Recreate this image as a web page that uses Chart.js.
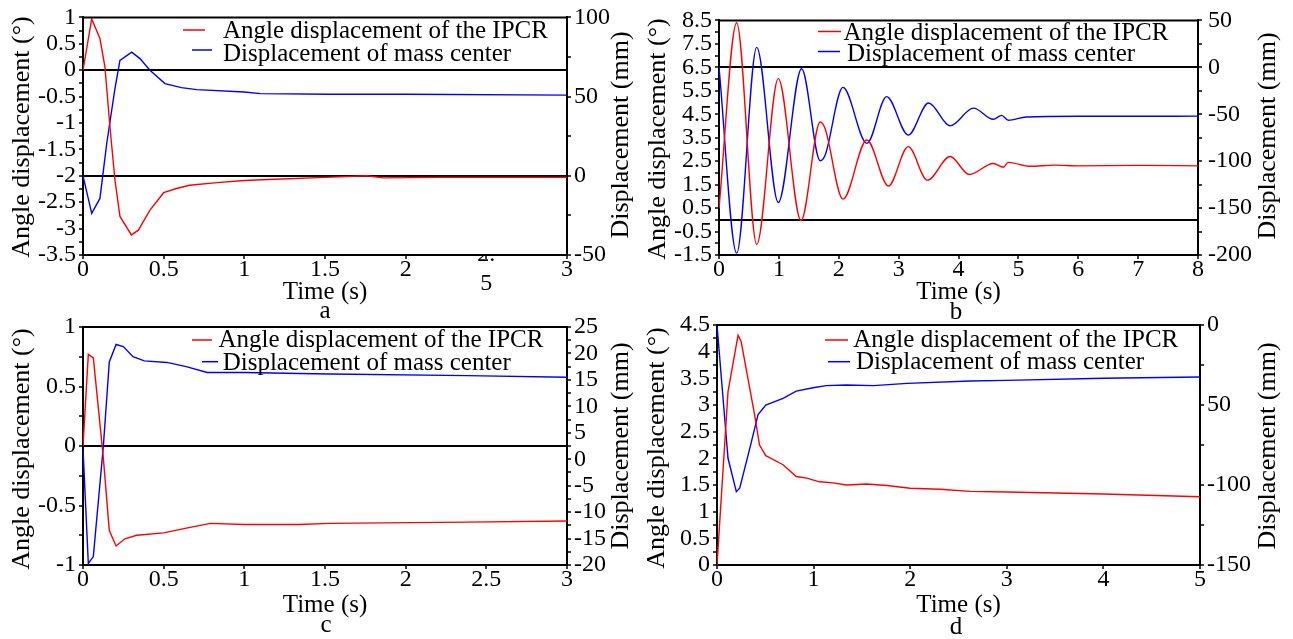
<!DOCTYPE html>
<html><head><meta charset="utf-8">
<script src="https://cdn.jsdelivr.net/npm/chart.js@4.4.0/dist/chart.umd.min.js"></script>
<style>
html,body{margin:0;padding:0;background:#fff;}
#wrap{position:relative;width:1293px;height:639px;overflow:hidden;background:#fff;}
canvas{position:absolute;}
</style></head><body>
<div id="wrap">
<canvas id="cA" width="646" height="320" style="left:0;top:0"></canvas>
<canvas id="cB" width="647" height="320" style="left:646px;top:0"></canvas>
<canvas id="cC" width="646" height="349" style="left:0;top:290px"></canvas>
<canvas id="cD" width="647" height="349" style="left:646px;top:290px"></canvas>
</div>
<script>
// ---------- Series labels ----------
const seriesAngle = 'Angle displacement of the IPCR';
const seriesMass = 'Displacement of mass center';
const xTitle = 'Time (s)';
const leftTitle = 'Angle displacement (°)';
const rightTitle = 'Displacement (mm)';

// ---------- Panel a ----------
const aAngleTime = [0, 0.054, 0.105, 0.136, 0.167, 0.198, 0.229, 0.30, 0.343, 0.415, 0.50, 0.58, 0.66, 0.83, 1.0, 1.15, 1.5, 1.76, 1.86, 2.2, 3.0];
const aAngle     = [0, 0.97, 0.6, 0.06, -1.07, -2.08, -2.77, -3.12, -3.03, -2.65, -2.32, -2.24, -2.18, -2.13, -2.09, -2.07, -2.03, -2.0, -2.04, -2.03, -2.03];
const aMassTime  = [0, 0.054, 0.105, 0.147, 0.198, 0.229, 0.302, 0.353, 0.415, 0.508, 0.61, 0.705, 1.0, 1.1, 1.53, 2.0, 3.0];
const aMass      = [0, -23.7, -14.3, 20.4, 55.1, 72.9, 78.1, 74, 66.6, 58.2, 55.7, 54.4, 52.9, 51.9, 51.5, 51.5, 50.9];
const aXTickValues = [0, 0.5, 1, 1.5, 2, 2.5, 3];
const aXTickLabels = ['0', '0.5', '1', '1.5', '2', ['2.', '5'], '3'];
const aLeftTickValues = [1, 0.5, 0, -0.5, -1, -1.5, -2, -2.5, -3, -3.5];
const aLeftTickLabels = ['1', '0.5', '0', '-0.5', '-1', '-1.5', '-2', '-2.5', '-3', '-3.5'];
const aRightTickValues = [100, 50, 0, -50];
const aRightTickLabels = ['100', '50', '0', '-50'];

// ---------- Panel b ----------
const bAngleTime = [0, 0.295, 0.63, 0.99, 1.37, 1.69, 1.77, 2.07, 2.47, 2.83, 3.16, 3.48, 3.86, 4.18, 4.58, 4.75, 4.83, 5.2, 5.6, 6, 7, 8];
const bAngle     = [0.5, 8.4, -1.05, 6.02, -0.03, 4.17, 3.9, 0.88, 3.4, 1.44, 3.12, 1.69, 2.7, 1.93, 2.4, 2.24, 2.45, 2.28, 2.33, 2.3, 2.32, 2.3];
const bMassTime  = [0, 0.295, 0.63, 0.99, 1.38, 1.69, 1.77, 2.07, 2.47, 2.8, 3.16, 3.5, 3.86, 4.25, 4.58, 4.72, 4.83, 5.13, 6, 7, 8];
const bMass      = [0, -198, 21.3, -144, -1.5, -99.5, -94, -21.4, -81, -31.2, -72.2, -38, -62.4, -43.5, -55.4, -51.2, -56.4, -53, -52.2, -52.2, -52];
const bXTickValues = [0, 1, 2, 3, 4, 5, 6, 7, 8];
const bXTickLabels = ['0', '1', '2', '3', '4', '5', '6', '7', '8'];
const bLeftTickValues = [8.5, 7.5, 6.5, 5.5, 4.5, 3.5, 2.5, 1.5, 0.5, -0.5, -1.5];
const bLeftTickLabels = ['8.5', '7.5', '6.5', '5.5', '4.5', '3.5', '2.5', '1.5', '0.5', '-0.5', '-1.5'];
const bRightTickValues = [50, 0, -50, -100, -150, -200];
const bRightTickLabels = ['50', '0', '-50', '-100', '-150', '-200'];

// ---------- Panel c ----------
const cAngleTime = [0, 0.033, 0.064, 0.095, 0.126, 0.163, 0.205, 0.26, 0.333, 0.5, 0.64, 0.79, 1.0, 1.34, 1.53, 2.38, 3.0];
const cAngle     = [0, 0.77, 0.74, 0.32, -0.10, -0.71, -0.84, -0.78, -0.75, -0.73, -0.69, -0.65, -0.66, -0.66, -0.65, -0.64, -0.63];
const cMassTime  = [0, 0.033, 0.064, 0.126, 0.163, 0.205, 0.25, 0.31, 0.38, 0.52, 0.64, 0.77, 1.0, 1.34, 1.53, 2.38, 3.0];
const cMass      = [2, -19.7, -18.4, 2.4, 18.4, 21.7, 21.3, 19.4, 18.6, 18.3, 17.5, 16.4, 16.4, 16.2, 16.1, 15.8, 15.5];
const cXTickValues = [0, 0.5, 1, 1.5, 2, 2.5, 3];
const cXTickLabels = ['0', '0.5', '1', '1.5', '2', '2.5', '3'];
const cLeftTickValues = [1, 0.5, 0, -0.5, -1];
const cLeftTickLabels = ['1', '0.5', '0', '-0.5', '-1'];
const cRightTickValues = [25, 20, 15, 10, 5, 0, -5, -10, -15, -20];
const cRightTickLabels = ['25', '20', '15', '10', '5', '0', '-5', '-10', '-15', '-20'];

// ---------- Panel d ----------
const dAngleTime = [0, 0.114, 0.218, 0.25, 0.32, 0.39, 0.44, 0.505, 0.684, 0.82, 0.93, 1.06, 1.2, 1.34, 1.55, 1.76, 2.0, 2.31, 2.62, 3, 4, 5];
const dAngle     = [0, 3.25, 4.31, 4.19, 3.5, 2.81, 2.25, 2.05, 1.88, 1.66, 1.63, 1.56, 1.54, 1.5, 1.52, 1.49, 1.44, 1.42, 1.38, 1.37, 1.33, 1.28];
const dMassTime  = [0, 0.114, 0.2, 0.235, 0.34, 0.425, 0.505, 0.684, 0.82, 0.995, 1.13, 1.34, 1.62, 1.97, 2.62, 3, 4, 5];
const dMass      = [0, -83.3, -104.2, -102, -77, -56, -50, -45.8, -41.3, -39.2, -37.9, -37.5, -37.9, -36.5, -35, -34.6, -33.3, -32.5];
const dXTickValues = [0, 1, 2, 3, 4, 5];
const dXTickLabels = ['0', '1', '2', '3', '4', '5'];
const dLeftTickValues = [4.5, 4, 3.5, 3, 2.5, 2, 1.5, 1, 0.5, 0];
const dLeftTickLabels = ['4.5', '4', '3.5', '3', '2.5', '2', '1.5', '1', '0.5', '0'];
const dRightTickValues = [0, -50, -100, -150];
const dRightTickLabels = ['0', '50', '-100', '-150'];

// ---------- helpers ----------
const FONT = '"Liberation Serif", "Times New Roman", serif';
const RED = 'rgb(255,0,0)', BLUE = 'rgb(0,0,255)';

function pts(xs, ys) { return xs.map((x, i) => ({x: x, y: ys[i]})); }

function tickSet(min, max, step) {
  const out = [], n = Math.round((max - min) / step);
  for (let i = 0; i <= n; i++) out.push({value: +(min + i * step).toFixed(6)});
  return out;
}
function labelFor(vals, labs, v) {
  const i = vals.findIndex(t => Math.abs(t - v) < 1e-6);
  return i >= 0 ? labs[i] : '';
}

function axis(pos, min, max, step, vals, labs, size, opt) {
  const horiz = pos === 'bottom';
  return {
    type: 'linear', position: pos, min: min, max: max,
    afterBuildTicks: s => { s.ticks = tickSet(min, max, step); },
    afterFit: s => { if (horiz) s.height = size; else s.width = size; },
    ticks: {
      autoSkip: false, maxRotation: 0, minRotation: 0,
      padding: opt.pad, color: '#000', crossAlign: opt.cross || 'near',
      font: {size: 24, family: FONT},
      callback: v => labelFor(vals, labs, v)
    },
    grid: {
      drawOnChartArea: !horiz,
      color: c => (opt.zero && c.tick && Math.abs(c.tick.value) < 1e-9) ? '#000' : 'rgba(0,0,0,0)',
      lineWidth: 2, tickColor: '#000', tickLength: 4, tickWidth: 1.5
    },
    border: {display: true, color: '#000', width: 2}
  };
}

function panel(p) {
  const off = p.offset;
  const deco = {
    id: 'deco',
    afterDraw(chart) {
      const ctx = chart.ctx, a = chart.chartArea;
      ctx.save();
      ctx.strokeStyle = '#000'; ctx.lineWidth = 2;
      ctx.beginPath(); ctx.moveTo(a.left - 1, a.top); ctx.lineTo(a.right + 1, a.top); ctx.stroke();
      ctx.fillStyle = '#000';
      ctx.textBaseline = 'alphabetic';
      // legend
      ctx.font = '25px ' + FONT; ctx.textAlign = 'left';
      chart.data.datasets.forEach((ds, i) => {
        const L = p.legend[i];
        ctx.strokeStyle = ds.borderColor; ctx.lineWidth = 1.5;
        ctx.beginPath(); ctx.moveTo(L.x1 - off[0], L.ly - off[1]); ctx.lineTo(L.x2 - off[0], L.ly - off[1]); ctx.stroke();
        ctx.fillText(ds.label, L.tx - off[0], L.ty - off[1]);
      });
      // axis titles
      ctx.font = '26px ' + FONT; ctx.textAlign = 'center';
      [[leftTitle, p.lt], [rightTitle, p.rt]].forEach(([t, q]) => {
        ctx.save(); ctx.translate(q[0] - off[0], q[1] - off[1]); ctx.rotate(-Math.PI / 2);
        ctx.fillText(t, 0, 0); ctx.restore();
      });
      ctx.font = '25px ' + FONT;
      ctx.fillText(xTitle, p.xt[0] - off[0], p.xt[1] - off[1]);
      ctx.fillText(p.letter, p.lx[0] - off[0], p.lx[1] - off[1]);
      ctx.restore();
    }
  };
  new Chart(document.getElementById(p.id), {
    type: 'line',
    data: {datasets: [
      {label: seriesAngle, data: pts(p.angT, p.ang), yAxisID: 'yL', borderColor: RED, borderWidth: 1.4, pointRadius: 0, fill: false, tension: 0, cubicInterpolationMode: p.mono ? 'monotone' : 'default'},
      {label: seriesMass, data: pts(p.massT, p.mass), yAxisID: 'yR', borderColor: BLUE, borderWidth: 1.4, pointRadius: 0, fill: false, tension: 0, cubicInterpolationMode: p.mono ? 'monotone' : 'default'}
    ]},
    options: {
      responsive: false, animation: false, devicePixelRatio: 1,
      layout: {padding: {left: 0, right: 0, top: p.area.T, bottom: 0}},
      plugins: {legend: {display: false}, tooltip: {enabled: false}, title: {display: false}},
      scales: {
        x: axis('bottom', p.x[0], p.x[1], p.x[2], p.x[3], p.x[4], p.h - p.area.B, {pad: -4, cross: p.xcross}),
        yL: axis('left', p.yl[0], p.yl[1], p.yl[2], p.yl[3], p.yl[4], p.area.L, {pad: 3, zero: p.yl[5]}),
        yR: axis('right', p.yr[0], p.yr[1], p.yr[2], p.yr[3], p.yr[4], p.w - p.area.R, {pad: p.rpad || 3, zero: p.yr[5]})
      }
    },
    plugins: [deco]
  });
}

panel({id: 'cA', offset: [0, 0], w: 646, h: 320, area: {L: 83, R: 567, T: 17, B: 255},
  angT: aAngleTime, ang: aAngle, massT: aMassTime, mass: aMass, mono: false, xcross: 'center',
  x: [0, 3, 0.5, aXTickValues, aXTickLabels],
  yl: [-3.5, 1, 0.25, aLeftTickValues, aLeftTickLabels, true],
  yr: [-50, 100, 25, aRightTickValues, aRightTickLabels, true],
  legend: [{x1: 183, x2: 205, ly: 30, tx: 223, ty: 37.5}, {x1: 192, x2: 212, ly: 50, tx: 223, ty: 61}],
  lt: [28.5, 137], rt: [628, 135], xt: [325, 299], lx: [325, 318], letter: 'a'});

panel({id: 'cB', offset: [646, 0], w: 647, h: 320, area: {L: 73, R: 552, T: 17, B: 255},
  angT: bAngleTime, ang: bAngle, massT: bMassTime, mass: bMass, mono: true,
  x: [0, 8, 1, bXTickValues, bXTickLabels],
  yl: [-1.5, 8.5, 0.5, bLeftTickValues, bLeftTickLabels, true],
  yr: [-200, 50, 25, bRightTickValues, bRightTickLabels, true], rpad: 6,
  legend: [{x1: 818, x2: 841, ly: 31.5, tx: 843.5, ty: 39.5}, {x1: 818, x2: 840, ly: 51.5, tx: 847, ty: 60.7}],
  lt: [665, 139], rt: [1275, 136], xt: [958.5, 299], lx: [956, 319], letter: 'b'});

panel({id: 'cC', offset: [0, 290], w: 646, h: 349, area: {L: 83, R: 567, T: 37, B: 275},
  angT: cAngleTime, ang: cAngle, massT: cMassTime, mass: cMass, mono: false,
  x: [0, 3, 0.5, cXTickValues, cXTickLabels],
  yl: [-1, 1, 0.25, cLeftTickValues, cLeftTickLabels, true],
  yr: [-20, 25, 2.5, cRightTickValues, cRightTickLabels, false],
  legend: [{x1: 192, x2: 212, ly: 340, tx: 218.5, ty: 347.3}, {x1: 202, x2: 218, ly: 361.7, tx: 222.7, ty: 370}],
  lt: [28.5, 449], rt: [628, 446], xt: [325, 612], lx: [326, 632], letter: 'c'});

panel({id: 'cD', offset: [646, 290], w: 647, h: 349, area: {L: 71, R: 554, T: 35, B: 275},
  angT: dAngleTime, ang: dAngle, massT: dMassTime, mass: dMass, mono: false,
  x: [0, 5, 1, dXTickValues, dXTickLabels],
  yl: [0, 4.5, 0.25, dLeftTickValues, dLeftTickLabels, false],
  yr: [-150, 0, 25, dRightTickValues, dRightTickLabels, false],
  legend: [{x1: 825, x2: 848, ly: 340, tx: 853.3, ty: 346.7}, {x1: 828, x2: 850, ly: 361.7, tx: 856, ty: 369.3}],
  lt: [663.5, 448], rt: [1275, 446], xt: [958.5, 612], lx: [956, 634], letter: 'd'});
</script>
</body></html>
